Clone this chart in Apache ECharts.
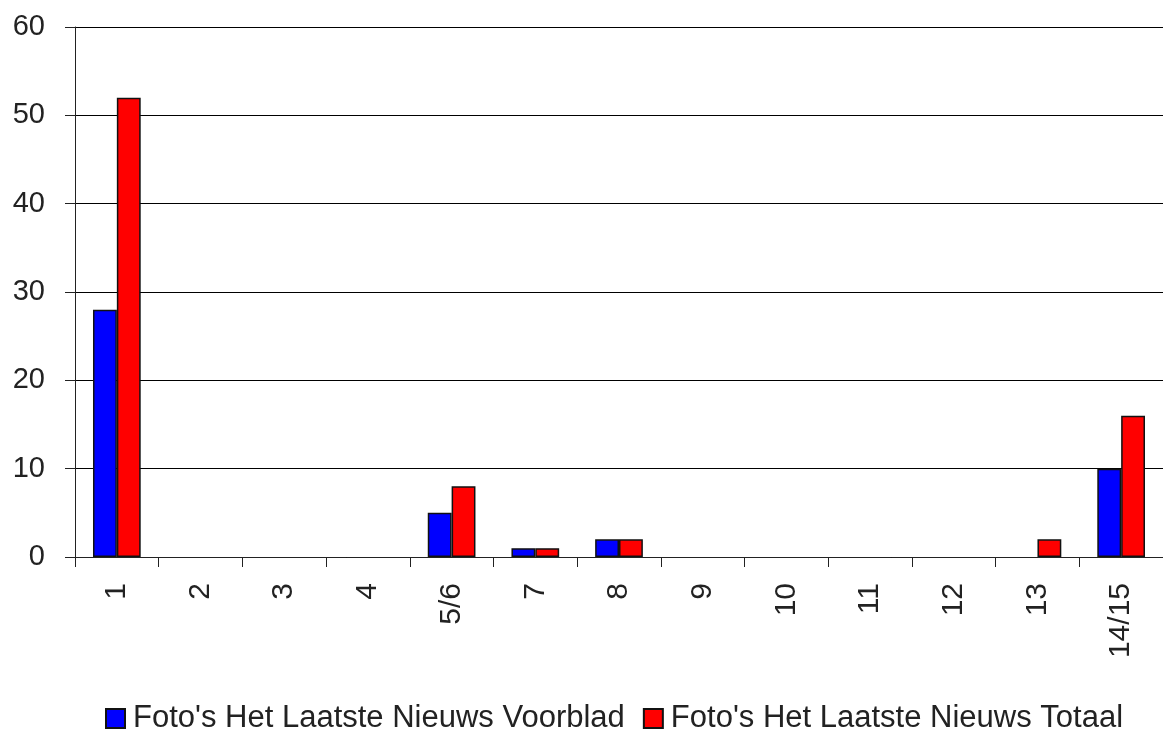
<!DOCTYPE html>
<html><head><meta charset="utf-8">
<script src="https://cdn.jsdelivr.net/npm/echarts@6/dist/echarts.min.js"></script>
<style>html,body{margin:0;padding:0;background:#fff}#c{width:1163px;height:731px}</style>
</head><body><div id="c"></div>
<script>
var categories = ['1','2','3','4','5/6','7','8','9','10','11','12','13','14/15'];
var voorblad = [28,0,0,0,5,1,2,0,0,0,0,0,10];
var totaal = [52,0,0,0,8,1,2,0,0,0,0,2,16];
var seriesNames = ["Foto's Het Laatste Nieuws Voorblad", "Foto's Het Laatste Nieuws Totaal"];

function items(arr) {
  return arr.map(function (v) {
    return v === 0 ? {value: v, itemStyle: {borderWidth: 0}} : v;
  });
}

var chart = echarts.init(document.getElementById('c'));
var font = 'Liberation Sans, Arial, sans-serif';
chart.setOption({
  animation: false,
  grid: {left: 75, top: 27, width: 1094, height: 530},
  legend: {
    top: 703, left: 105, padding: 0, itemWidth: 19, itemHeight: 19, itemGap: 18,
    icon: 'rect',
    textStyle: {fontFamily: font, fontSize: 31, color: '#222', padding: [0, 0, 0, 3]},
    data: seriesNames
  },
  xAxis: {
    type: 'category', data: categories,
    axisLine: {lineStyle: {color: '#222', width: 1}},
    axisTick: {show: true, length: 10, lineStyle: {color: '#222'}},
    axisLabel: {rotate: 90, fontFamily: font, fontSize: 30, color: '#222', margin: 26}
  },
  yAxis: {
    type: 'value', min: 0, max: 60, interval: 10,
    axisLine: {show: true, lineStyle: {color: '#222', width: 1}},
    axisTick: {show: true, length: 10, lineStyle: {color: '#222'}},
    splitLine: {lineStyle: {color: '#000', width: 1}},
    axisLabel: {fontFamily: font, fontSize: 29, color: '#222', margin: 30}
  },
  series: [
    {name: seriesNames[0], type: 'bar', data: items(voorblad), barGap: '0%', barCategoryGap: '43%',
     itemStyle: {color: '#0000ff', borderColor: '#111', borderWidth: 1.5}},
    {name: seriesNames[1], type: 'bar', data: items(totaal), barGap: '0%', barCategoryGap: '43%',
     itemStyle: {color: '#ff0000', borderColor: '#111', borderWidth: 1.5}}
  ]
});
</script></body></html>
